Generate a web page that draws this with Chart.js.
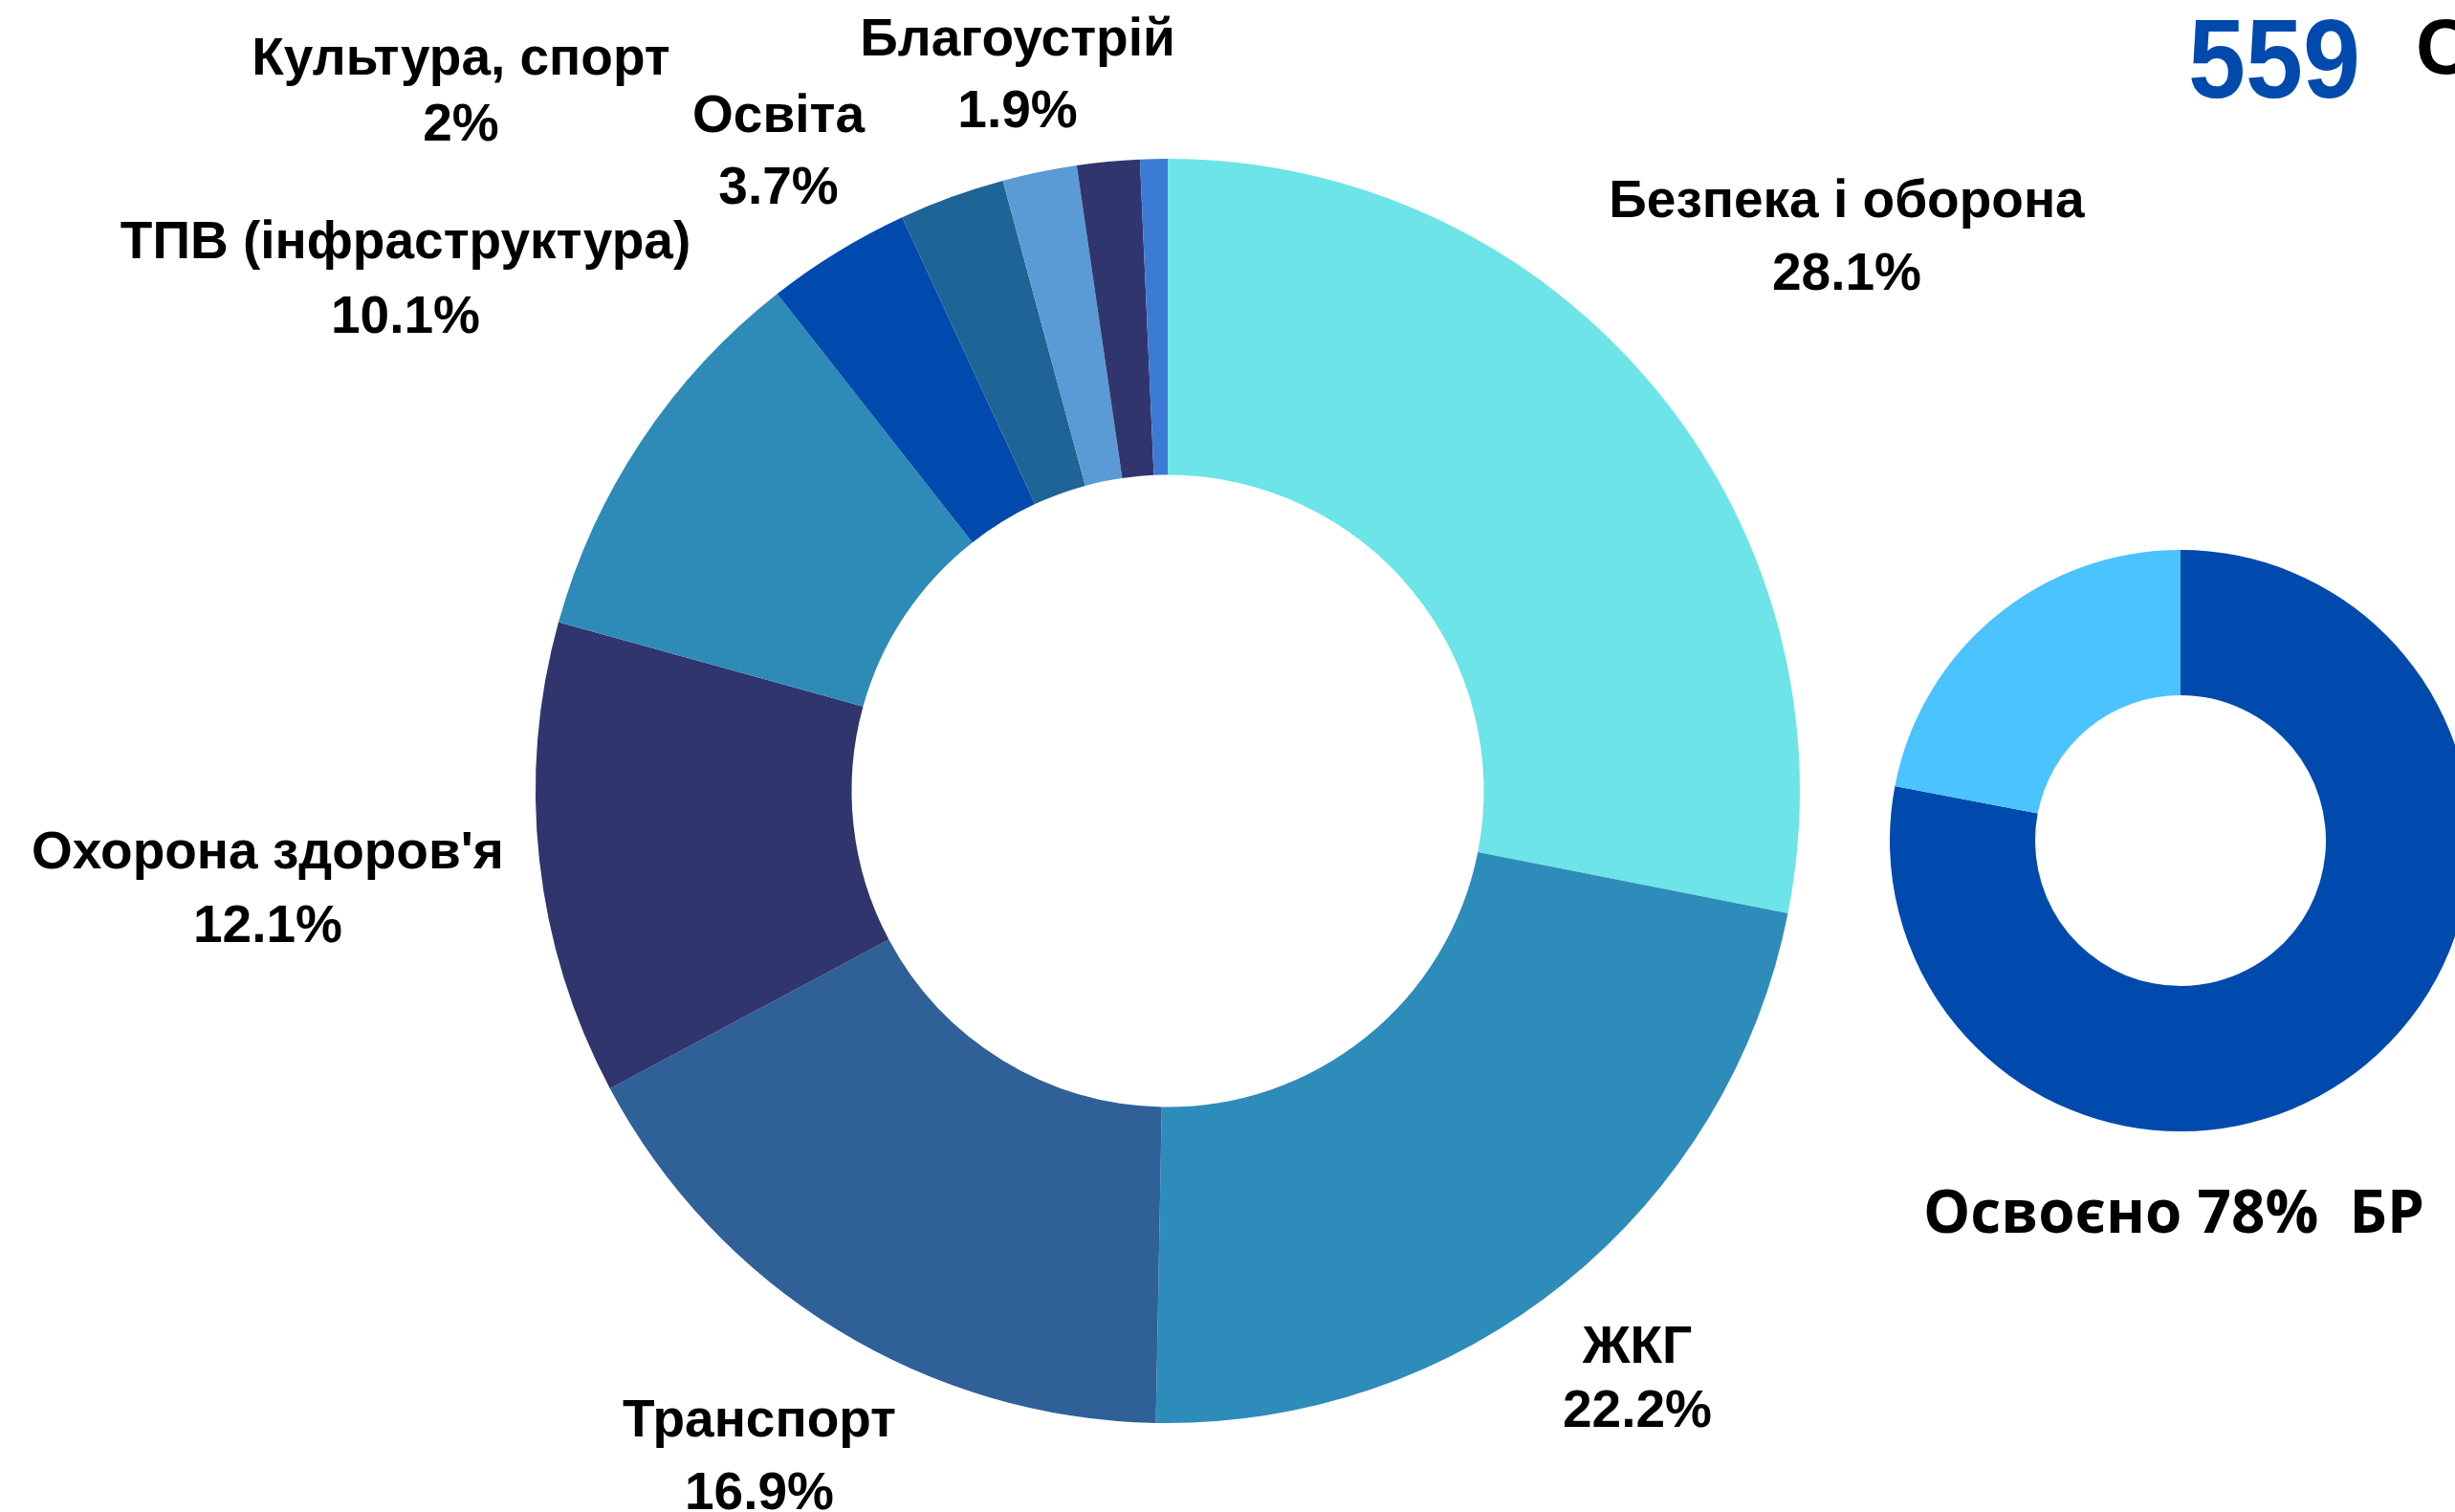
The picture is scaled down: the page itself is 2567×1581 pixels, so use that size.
<!DOCTYPE html>
<html>
<head>
<meta charset="utf-8">
<script src="https://cdn.jsdelivr.net/npm/chart.js@4/dist/chart.umd.min.js"></script>
<style>
  html, body { margin: 0; padding: 0; width: 2567px; height: 1581px; overflow: hidden; background: #ffffff; }
  #main { position: absolute; left: 0; top: 0; }
  #small { position: absolute; left: 1976px; top: 575px; }
</style>
</head>
<body>
<canvas id="main" width="2567" height="1581"></canvas>
<canvas id="small" width="608" height="608"></canvas>
<script>
// ---------- DATA ----------
const categories = ['Безпека і оборона', 'ЖКГ', 'Транспорт', "Охорона здоров'я", 'ТПВ (інфраструктура)', 'Освіта', 'Культура, спорт', 'Благоустрій', '', ''];
const shares = [28.1, 22.2, 16.9, 12.1, 10.1, 3.7, 2.7, 1.9, 1.6, 0.7];
const shareLabels = ['28.1%', '22.2%', '16.9%', '12.1%', '10.1%', '3.7%', '2%', '1.9%', '', ''];
const sliceColors = ['#6ce4e8', '#2e8cba', '#2f6098', '#31356e', '#2e8bb8', '#004aad', '#1f6497', '#5b9bd5', '#31356e', '#3b7bd5'];

const budgetParts = ['Освоєно', 'Залишок'];
const budgetShares = [78, 22];
const budgetColors = ['#004aad', '#4bc3ff'];
const budgetCaption = 'Освоєно 78%  БР';
const headlineNumber = '559';
const headlineWord = 'С';

// ---------- LAYOUT (offsets from main doughnut centre, px) ----------
const labelLayout = [
  { i: 0, dx: 710,  b1: -600, b2: -524 },
  { i: 1, dx: 491,  b1: 598,  b2: 665 },
  { i: 2, dx: -427, b1: 675,  b2: 751 },
  { i: 3, dx: -941, b1: 81,   b2: 158 },
  { i: 4, dx: -797, b1: -557, b2: -479 },
  { i: 5, dx: -407, b1: -689, b2: -614 },
  { i: 6, dx: -739, b1: -749, b2: -680 },
  { i: 7, dx: -157, b1: -769, b2: -694 }
];

const textPlugin = {
  id: 'textPlugin',
  afterDraw(chart) {
    const arc = chart.getDatasetMeta(0).data[0];
    const cx = arc.x, cy = arc.y;
    const ctx = chart.ctx;
    ctx.save();
    ctx.fillStyle = '#000000';
    ctx.textAlign = 'center';
    ctx.textBaseline = 'alphabetic';
    ctx.font = 'bold 55px "Liberation Sans"';
    labelLayout.forEach(l => {
      ctx.fillText(categories[l.i], cx + l.dx, cy + l.b1);
      ctx.fillText(shareLabels[l.i], cx + l.dx, cy + l.b2);
    });

    // caption under the small doughnut
    ctx.font = 'bold 62px "Open Sans"';
    ctx.fillText(budgetCaption, 2273, 1289);

    // headline number
    ctx.textAlign = 'left';
    ctx.font = 'bold 117px "Liberation Sans"';
    const w = ctx.measureText(headlineNumber).width;
    ctx.save();
    ctx.translate(2288, 102);
    ctx.scale(180 / w, 1);
    ctx.fillStyle = '#004aad';
    ctx.fillText(headlineNumber, 0, 0);
    ctx.restore();

    ctx.fillStyle = '#000000';
    ctx.font = 'bold 82px "Liberation Sans"';
    ctx.fillText(headlineWord, 2526, 77);
    ctx.restore();
  }
};

Chart.defaults.animation = false;

new Chart(document.getElementById('main'), {
  type: 'doughnut',
  data: {
    labels: categories,
    datasets: [{
      data: shares,
      backgroundColor: sliceColors,
      borderWidth: 0,
      hoverOffset: 0,
      offset: 0
    }]
  },
  options: {
    responsive: false,
    devicePixelRatio: 1,
    cutout: '50%',
    rotation: 0,
    layout: { padding: { left: 560, top: 166, right: 685, bottom: 93 } },
    plugins: { legend: { display: false }, tooltip: { enabled: false } },
    events: []
  },
  plugins: [textPlugin]
});

new Chart(document.getElementById('small'), {
  type: 'doughnut',
  data: {
    labels: budgetParts,
    datasets: [{
      data: budgetShares,
      backgroundColor: budgetColors,
      borderWidth: 0,
      hoverOffset: 0,
      offset: 0
    }]
  },
  options: {
    responsive: false,
    devicePixelRatio: 1,
    cutout: '50%',
    rotation: 0,
    layout: { padding: 0 },
    plugins: { legend: { display: false }, tooltip: { enabled: false } },
    events: []
  }
});
</script>
</body>
</html>
